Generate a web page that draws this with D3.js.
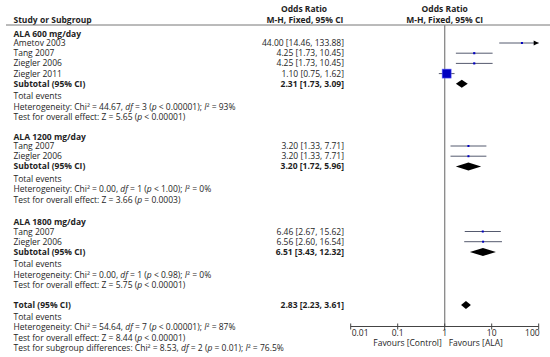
<!DOCTYPE html>
<html><head><meta charset="utf-8">
<script src="https://cdn.jsdelivr.net/npm/d3@7/dist/d3.min.js"></script>
<style>
html,body{margin:0;padding:0;background:#fff;}
svg{display:block;}
text{font-family:"Open Sans",Lato,sans-serif;fill:#1e1e1e;}
</style></head><body>
<svg id="c" width="550" height="357"></svg>
<script>
// ---------------- data ----------------
const groups = ["ALA 600 mg/day", "ALA 1200 mg/day", "ALA 1800 mg/day"];
const studyNames = [["Ametov 2003", "Tang 2007", "Ziegler 2006", "Ziegler 2011"], ["Tang 2007", "Ziegler 2006"], ["Tang 2007", "Ziegler 2006"]];
const studyOR = [[44.00, 4.25, 4.25, 1.10], [3.20, 3.20], [6.46, 6.56]];
const studyLo = [[14.46, 1.73, 1.73, 0.75], [1.33, 1.33], [2.67, 2.60]];
const studyHi = [[133.88, 10.45, 10.45, 1.62], [7.71, 7.71], [15.62, 16.54]];
const studyWeight = [[1.5, 4.5, 4.5, 80], [4, 4], [4, 4]];
const subOR = [2.31, 3.20, 6.51];
const subLo = [1.73, 1.72, 3.43];
const subHi = [3.09, 5.96, 12.32];
const hetChi = ["44.67", "0.00", "0.00"];
const hetDf = ["3", "1", "1"];
const hetP = ["< 0.00001", "< 1.00", "< 0.98"];
const hetI2 = ["93%", "0%", "0%"];
const zVal = ["5.65", "3.66", "5.75"];
const zP = ["< 0.00001", "= 0.0003", "< 0.00001"];
const totalOR = 2.83, totalLo = 2.23, totalHi = 3.61;
const totalHet = {chi: "54.64", df: "7", p: "< 0.00001", i2: "87%"};
const totalZ = {z: "8.44", p: "< 0.00001"};
const subgroupDiff = {chi: "8.53", df: "2", p: "= 0.01", i2: "76.5%"};
const tickValues = [0.01, 0.1, 1, 10, 100];
const tickLabels = ["0.01", "0.1", "1", "10", "100"];
const favourLeft = "Favours [Control]", favourRight = "Favours [ALA]";

// ---------------- layout ----------------
const svg = d3.select("#c");
const fs = 8.5;
const xText = 13.5, xNum = 344;
const x = d3.scaleLog().domain([0.01, 100]).range([350.7, 538.7]);
const f2 = d3.format(".2f");
const ciText = (o, l, h) => `${f2(o)} [${f2(l)}, ${f2(h)}]`;
const groupTop = [33.5, 136.5, 222];

function txt(xp, yc, str, opts = {}) {
  return svg.append("text").attr("x", xp).attr("y", yc + 3)
    .attr("font-size", opts.size || fs)
    .attr("font-weight", opts.bold ? "bold" : "normal")
    .attr("text-anchor", opts.anchor || "start")
    .text(str);
}
function rich(xp, yc, parts) {
  const t = svg.append("text").attr("x", xp).attr("y", yc + 3).attr("font-size", fs);
  parts.forEach(p => {
    const s = t.append("tspan").text(p[0]);
    if (p[1] === "i") s.attr("font-style", "italic");
  });
  return t;
}
function hetLine(yc, chi, df, p, i2) {
  rich(xText, yc, [["Heterogeneity: Chi² = " + chi + ", "], ["df", "i"], [" = " + df + " ("], ["p", "i"], [" " + p + "); "], ["I", "i"], ["² = " + i2]]);
}
function zLine(yc, z, p) {
  rich(xText, yc, [["Test for overall effect: Z = " + z + " ("], ["p", "i"], [" " + p + ")"]]);
}
function diamond(yc, o, l, h, hh) {
  svg.append("path")
    .attr("d", `M${x(l)},${yc}L${x(o)},${yc - hh}L${x(h)},${yc}L${x(o)},${yc + hh}Z`)
    .attr("fill", "#000");
}

// header
txt(304, 9, "Odds Ratio", {bold: true, anchor: "middle"});
txt(305, 20, "M-H, Fixed, 95% CI", {bold: true, anchor: "middle"});
txt(x(1), 9, "Odds Ratio", {bold: true, anchor: "middle"});
txt(x(1), 20, "M-H, Fixed, 95% CI", {bold: true, anchor: "middle"});
txt(xText, 20, "Study or Subgroup", {bold: true});
svg.append("line").attr("x1", 6).attr("x2", 550).attr("y1", 25).attr("y2", 25)
  .attr("stroke", "#777").attr("stroke-width", 1);

// null line
const axisY = 326.5;
svg.append("line").attr("x1", x(1)).attr("x2", x(1)).attr("y1", 25).attr("y2", axisY)
  .attr("stroke", "#888").attr("stroke-width", 1.3);

// groups
const studyStep = 10.2;
groups.forEach((g, gi) => {
  const y0 = groupTop[gi];
  txt(xText, y0, g, {bold: true});
  let yy = y0 + 9.5;
  studyNames[gi].forEach((nm, si) => {
    const o = studyOR[gi][si], l = studyLo[gi][si], h = studyHi[gi][si];
    txt(xText, yy, nm);
    txt(xNum, yy, ciText(o, l, h), {anchor: "end"});
    const clipped = h > 100;
    const xr = clipped ? x(100) : x(h);
    svg.append("line").attr("x1", x(l)).attr("x2", xr).attr("y1", yy).attr("y2", yy)
      .attr("stroke", "#555a6e").attr("stroke-width", 1);
    if (clipped) {
      svg.append("path").attr("d", `M${xr},${yy}L${xr - 5},${yy - 2.5}L${xr - 5},${yy + 2.5}Z`).attr("fill", "#000");
    }
    const side = Math.max(2, Math.sqrt(studyWeight[gi][si]) * 1.0);
    svg.append("rect").attr("x", x(o) - side / 2).attr("y", yy - side / 2)
      .attr("width", side).attr("height", side)
      .attr("fill", "#0000c0").attr("stroke", side > 4 ? "#5a5aff" : "none").attr("stroke-width", 0.6);
    yy += studyStep;
  });
  txt(xText, yy, "Subtotal (95% CI)", {bold: true});
  txt(xNum, yy, ciText(subOR[gi], subLo[gi], subHi[gi]), {anchor: "end", bold: true});
  diamond(yy, subOR[gi], subLo[gi], subHi[gi], 4);
  txt(xText, yy + 12.3, "Total events");
  hetLine(yy + 22.9, hetChi[gi], hetDf[gi], hetP[gi], hetI2[gi]);
  zLine(yy + 33.5, zVal[gi], zP[gi]);
});

// total
const yT = 305;
txt(xText, yT, "Total (95% CI)", {bold: true});
txt(xNum, yT, ciText(totalOR, totalLo, totalHi), {anchor: "end", bold: true});
diamond(yT, totalOR, totalLo, totalHi, 4);
txt(xText, yT + 11.5, "Total events");
hetLine(yT + 22, totalHet.chi, totalHet.df, totalHet.p, totalHet.i2);
zLine(yT + 32.5, totalZ.z, totalZ.p);
rich(xText, yT + 43, [["Test for subgroup differences: Chi² = " + subgroupDiff.chi + ", "], ["df", "i"], [" = " + subgroupDiff.df + " ("], ["p", "i"], [" " + subgroupDiff.p + "); "], ["I", "i"], ["² = " + subgroupDiff.i2]]);

// axis
const ax = svg.append("g").attr("transform", `translate(0,${axisY})`);
ax.append("line").attr("x1", x(0.01)).attr("x2", x(100)).attr("stroke", "#444").attr("stroke-width", 1);
tickValues.forEach((v, i) => {
  ax.append("line").attr("x1", x(v)).attr("x2", x(v)).attr("y1", -3).attr("y2", 3)
    .attr("stroke", "#444").attr("stroke-width", 1);
  const anchor = i === 0 ? "start" : (i === tickValues.length - 1 ? "end" : "middle");
  const dx = i === 0 ? 1 : (i === tickValues.length - 1 ? 1 : 0);
  ax.append("text").attr("x", x(v) + dx).attr("y", 9).attr("font-size", fs)
    .attr("text-anchor", anchor).text(tickLabels[i]);
});
txt(x(1) - 3, 343, favourLeft, {anchor: "end"});
txt(x(1) + 4, 343, favourRight, {anchor: "start"});
</script>
</body></html>
